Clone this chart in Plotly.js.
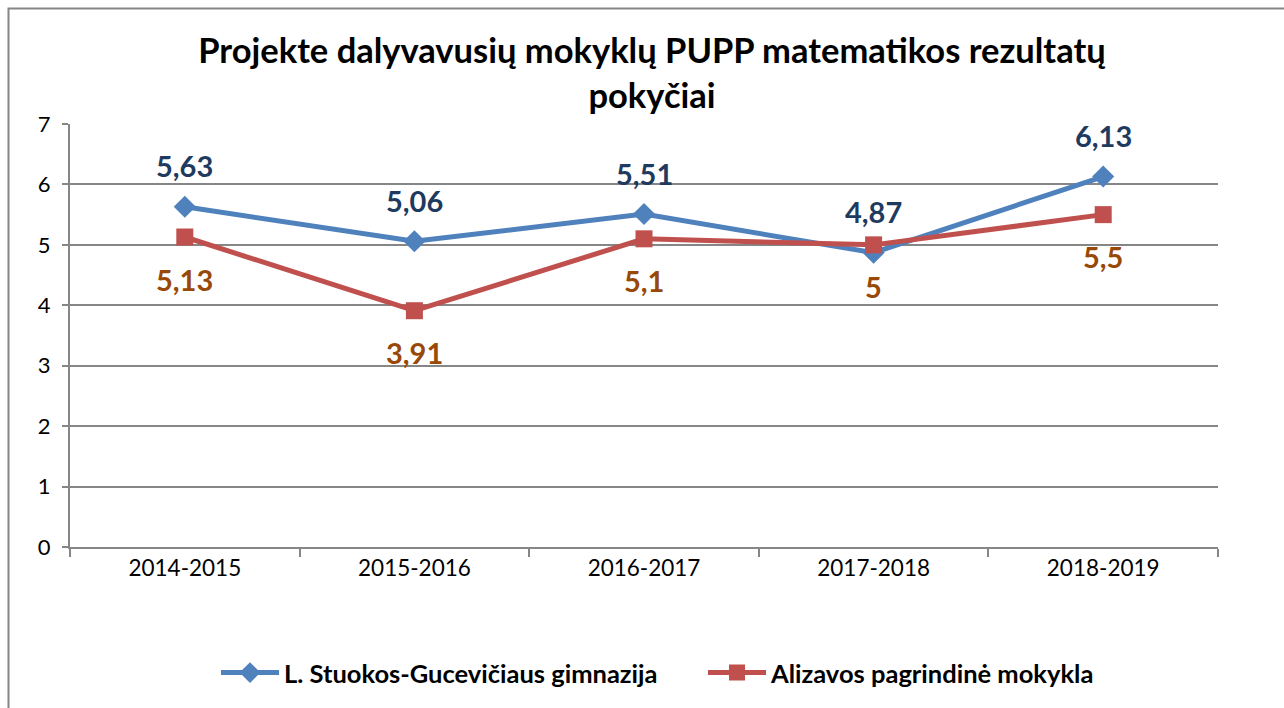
<!DOCTYPE html>
<html>
<head>
<meta charset="utf-8">
<script src="https://cdn.plot.ly/plotly-3.0.1.min.js"></script>
<style>html,body{margin:0;padding:0;background:#fff;}#chart{width:1284px;height:708px;}</style>
</head>
<body>
<div id="chart"></div>
<script>
const categories = ['2014-2015', '2015-2016', '2016-2017', '2017-2018', '2018-2019'];
const seriesNames = ['L. Stuokos-Gucevičiaus gimnazija', 'Alizavos pagrindinė mokykla'];
const gimnazija = [5.63, 5.06, 5.51, 4.87, 6.13];
const alizava = [5.13, 3.91, 5.1, 5, 5.5];
const yTicks = [0, 1, 2, 3, 4, 5, 6, 7];

const FONT = 'Lato, "Liberation Sans", sans-serif';
const fmt = v => String(v).replace('.', ',');

const L = 70, R = 1218, T = 124, B = 547;
const W = 1284, H = 708;
const px2x = p => (p - L) / (R - L);
const px2y = p => (B - p) / (B - T);

const traces = [
  {
    x: categories, y: gimnazija, name: seriesNames[0], type: 'scatter', mode: 'lines+markers',
    line: {color: '#4F81BD', width: 5},
    marker: {symbol: 'diamond', size: 17, color: '#4F81BD'}
  },
  {
    x: categories, y: alizava, name: seriesNames[1], type: 'scatter', mode: 'lines+markers',
    line: {color: '#C0504D', width: 5},
    marker: {symbol: 'square', size: 17, color: '#C0504D'}
  }
];

const annotations = [];
categories.forEach((c, i) => {
  annotations.push({x: c, y: gimnazija[i], text: fmt(gimnazija[i]), showarrow: false, yshift: 41,
    font: {family: FONT, size: 29, color: '#1F3A5F', weight: 'bold'}});
  annotations.push({x: c, y: alizava[i], text: fmt(alizava[i]), showarrow: false, yshift: -42,
    font: {family: FONT, size: 29, color: '#984807', weight: 'bold'}});
});

const layout = {
  width: W, height: H,
  margin: {l: L, r: W - R, t: T, b: H - B, pad: 0},
  paper_bgcolor: '#fff', plot_bgcolor: '#fff',
  font: {family: FONT, color: '#000'},
  title: {
    text: '<b>Projekte dalyvavusių mokyklų PUPP matematikos rezultatų<br>pokyčiai</b>',
    font: {family: FONT, size: 34.5, color: '#000'},
    x: px2x(652), xref: 'paper', xanchor: 'center', y: 1 - 63 / H, yanchor: 'middle'
  },
  xaxis: {
    type: 'category', tickson: 'boundaries', ticks: 'outside', ticklen: 8, tickwidth: 2, tickcolor: '#868686',
    showline: true, linecolor: '#868686', linewidth: 2, showgrid: false,
    tickfont: {family: FONT, size: 22.5, color: '#000'}, range: [-0.5, 4.5]
  },
  yaxis: {
    range: [0, 7], tickvals: yTicks, ticks: 'outside', ticklen: 6, tickwidth: 2, tickcolor: '#868686',
    showline: true, linecolor: '#868686', linewidth: 2, gridcolor: '#868686', gridwidth: 2,
    zeroline: false, tickfont: {family: FONT, size: 22, color: '#000'}, ticklabelstandoff: 7
  },
  legend: {
    orientation: 'h', x: px2x(216), xanchor: 'left', y: px2y(673), yanchor: 'middle',
    itemwidth: 58, entrywidth: 414, entrywidthmode: 'pixels',
    font: {family: FONT, size: 25.5, color: '#000', weight: 'bold'}
  },
  annotations: annotations,
  shapes: [{
    type: 'rect', xref: 'paper', yref: 'paper',
    x0: px2x(8.5), x1: px2x(1300), y0: px2y(8.5), y1: px2y(720),
    line: {color: '#868686', width: 2}, layer: 'below'
  }],
  showlegend: true
};

Plotly.newPlot('chart', traces, layout, {displayModeBar: false});
</script>
</body>
</html>
